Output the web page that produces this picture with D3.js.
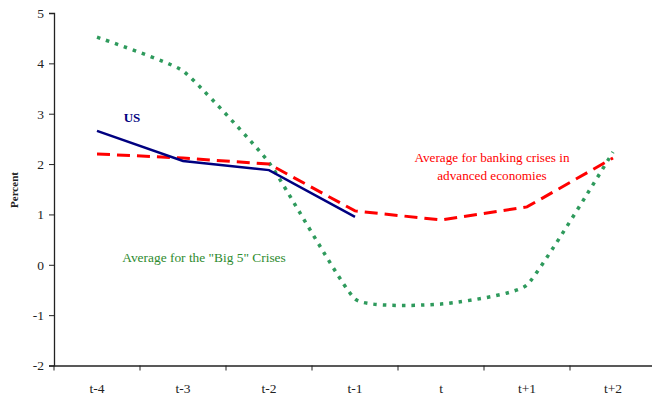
<!DOCTYPE html>
<html>
<head>
<meta charset="utf-8">
<script src="https://cdn.jsdelivr.net/npm/d3@7"></script>
<style>
  body { margin: 0; background: #fff; }
  svg text { font-family: "Liberation Serif", "Times New Roman", serif; }
</style>
</head>
<body>
<div class="container"></div>
<script>
var WIDTH = 652;
var HEIGHT = 399;

var periods = ['t-4', 't-3', 't-2', 't-1', 't', 't+1', 't+2'];
var yTicks = [-2, -1, 0, 1, 2, 3, 4, 5];

var big5 = [4.52, 3.85, 2.03, -0.68, -0.78, -0.4, 2.24];
var advanced = [2.2, 2.12, 2.0, 1.07, 0.89, 1.15, 2.12];
var us = [2.66, 2.06, 1.88, 0.95];

var translate = function (x, y) {
  return 'translate(' + x + ',' + y + ')';
};

var loadChart = function () {
  var left = 54, right = 656, top = 13, bottom = 365.5;

  var xScale = d3.scaleBand()
    .domain(periods)
    .range([left, right]);

  var yScale = d3.scaleLinear()
    .domain([-2, 5])
    .range([bottom, top]);

  var svg = d3.select('.container').append('svg')
    .attr('width', WIDTH)
    .attr('height', HEIGHT);

  var xAxis = d3.axisBottom(xScale).tickSize(0).tickPadding(18);
  var yAxis = d3.axisLeft(yScale).tickValues(yTicks).tickSize(5).tickPadding(5)
    .tickFormat(function (d) { return String(d); });

  var gx = svg.append('g')
    .attr('transform', translate(0, bottom))
    .call(xAxis);
  gx.select('.domain').attr('stroke', '#222').attr('stroke-width', 1.3);
  gx.selectAll('text').attr('font-size', 13.5).attr('fill', '#222');

  // band boundary ticks
  gx.selectAll('.bandTick')
    .data(periods)
    .enter()
    .append('line')
    .attr('class', 'bandTick')
    .attr('x1', function (d) { return xScale(d); })
    .attr('x2', function (d) { return xScale(d); })
    .attr('y1', 0)
    .attr('y2', 5)
    .attr('stroke', '#222');

  var gy = svg.append('g')
    .attr('transform', translate(left, 0))
    .call(yAxis);
  gy.select('.domain').attr('stroke', '#222').attr('stroke-width', 1.3);
  gy.selectAll('.tick line').attr('stroke', '#222');
  gy.selectAll('text').attr('font-size', 13.5).attr('fill', '#222');

  svg.append('text')
    .attr('transform', translate(18, 190) + ' rotate(-90)')
    .attr('text-anchor', 'middle')
    .attr('font-size', 11)
    .attr('font-weight', 'bold')
    .attr('fill', '#222')
    .text('Percent');

  var cx = function (i) { return xScale(periods[i]) + xScale.bandwidth() / 2; };

  var smooth = d3.line()
    .curve(d3.curveCardinal.tension(0.6))
    .x(function (d, i) { return cx(i); })
    .y(function (d) { return yScale(d); });

  var straight = d3.line()
    .x(function (d, i) { return cx(i); })
    .y(function (d) { return yScale(d); });

  var chartGroup = svg.append('g');

  chartGroup.append('path')
    .datum(big5)
    .attr('d', smooth)
    .attr('fill', 'none')
    .attr('stroke', '#2e9a5c')
    .attr('stroke-width', 3.5)
    .attr('stroke-dasharray', '3.5,6');

  chartGroup.append('path')
    .datum(advanced)
    .attr('d', straight)
    .attr('fill', 'none')
    .attr('stroke', '#ff0000')
    .attr('stroke-width', 3)
    .attr('stroke-dasharray', '13,7');

  chartGroup.append('path')
    .datum(us)
    .attr('d', straight)
    .attr('fill', 'none')
    .attr('stroke', '#000080')
    .attr('stroke-width', 2.5);

  // labels
  svg.append('text')
    .attr('x', cx(0) + 35).attr('y', yScale(2.83))
    .attr('text-anchor', 'middle')
    .attr('font-size', 13)
    .attr('font-weight', 'bold')
    .attr('fill', '#000080')
    .text('US');

  var redLabel = svg.append('text')
    .attr('text-anchor', 'middle')
    .attr('font-size', 13.2)
    .attr('fill', '#ff0000');
  redLabel.append('tspan').attr('x', 492).attr('y', yScale(2.05)).text('Average for banking crises in');
  redLabel.append('tspan').attr('x', 492).attr('y', yScale(1.69)).text('advanced economies');

  svg.append('text')
    .attr('x', 204).attr('y', yScale(0.065))
    .attr('text-anchor', 'middle')
    .attr('font-size', 13.4)
    .attr('fill', '#2e8b2e')
    .text('Average for the "Big 5" Crises');
};

window.onload = loadChart;
</script>
</body>
</html>
